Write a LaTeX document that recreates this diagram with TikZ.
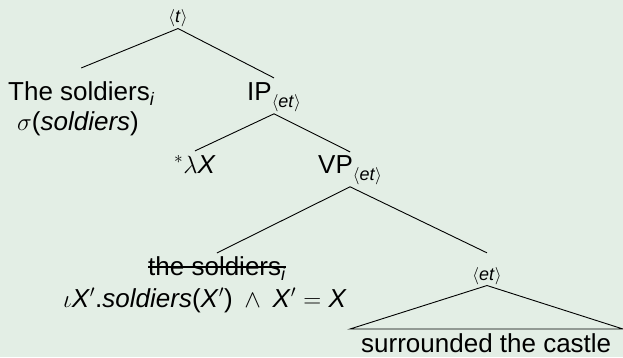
\documentclass[tikz,border=0pt]{standalone}
\usepackage{fontspec}
\setmainfont{Liberation Sans}
\definecolor{bg}{RGB}{227,238,229}
\newcommand{\ty}[1]{{\fontsize{18}{18}\selectfont$\langle$\textit{#1}$\rangle$}}
\newcommand{\lowsub}[1]{\raisebox{-0.28em}{\ty{#1}}}
\newcommand{\isub}{\raisebox{-0.2em}{\fontsize{18}{18}\selectfont\textit{i}}}
\begin{document}
\begin{tikzpicture}[x=1pt,y=-1pt,
  lbl/.style={inner sep=0pt,font=\fontsize{26}{30}\selectfont},
  edge/.style={line width=0.9pt,black},
  strike/.style={line width=2pt,black}]
\fill[bg] (0,0) rectangle (623,357);
\useasboundingbox (0,0) rectangle (623,357);
% nodes
\node[lbl,anchor=base] (root) at (178,22) {\ty{t}};
\node[lbl,anchor=base west] (ts) at (8,100) {The soldiers\isub};
\node[lbl,anchor=base west] (sig) at (17,130) {$\sigma$(\textit{soldiers})};
\node[lbl,anchor=base west] (ip) at (247,100) {IP\lowsub{et}};
\node[lbl,anchor=base west] (lam) at (174,173) {$^*\lambda$\textit{X}};
\node[lbl,anchor=base west] (vp) at (318,173) {VP\lowsub{et}};
\node[lbl,anchor=base west] (strk) at (148,275) {the soldiers\isub};
\node[lbl,anchor=base west] (iota) at (63,307) {$\iota$\textit{X}$'$.\textit{soldiers}(\textit{X}$'$)\hspace{0.45em}$\wedge$\hspace{0.45em}\textit{X}$'$ $=$ \textit{X}};
\node[lbl,anchor=base] (et2) at (487,280) {\ty{et}};
\node[lbl,anchor=base west] (surr) at (361,352) {surrounded the castle};
\coordinate (tl) at (350,329);
\coordinate (tr) at (623,329);
% edges
\draw[edge] ([yshift=-2pt]root.south) -- ([yshift=13pt]ts.north);
\draw[edge] ([yshift=-2pt]root.south) -- ([yshift=4pt]ip.north);
\draw[edge] ([yshift=-2pt]ip.south) -- ([yshift=4pt]lam.north);
\draw[edge] ([yshift=-2pt]ip.south) -- ([yshift=3pt]vp.north);
\draw[edge] ([yshift=-2pt]vp.south) -- ([yshift=3pt]strk.north);
\draw[edge] ([yshift=-2pt]vp.south) -- ([yshift=14pt]et2.north);
\draw[edge] ([yshift=-1pt]et2.south) -- (tl) -- (tr) -- cycle;
\draw[strike] ([yshift=8pt]strk.base west) -- ([yshift=8pt]strk.base east);
\end{tikzpicture}
\end{document}
